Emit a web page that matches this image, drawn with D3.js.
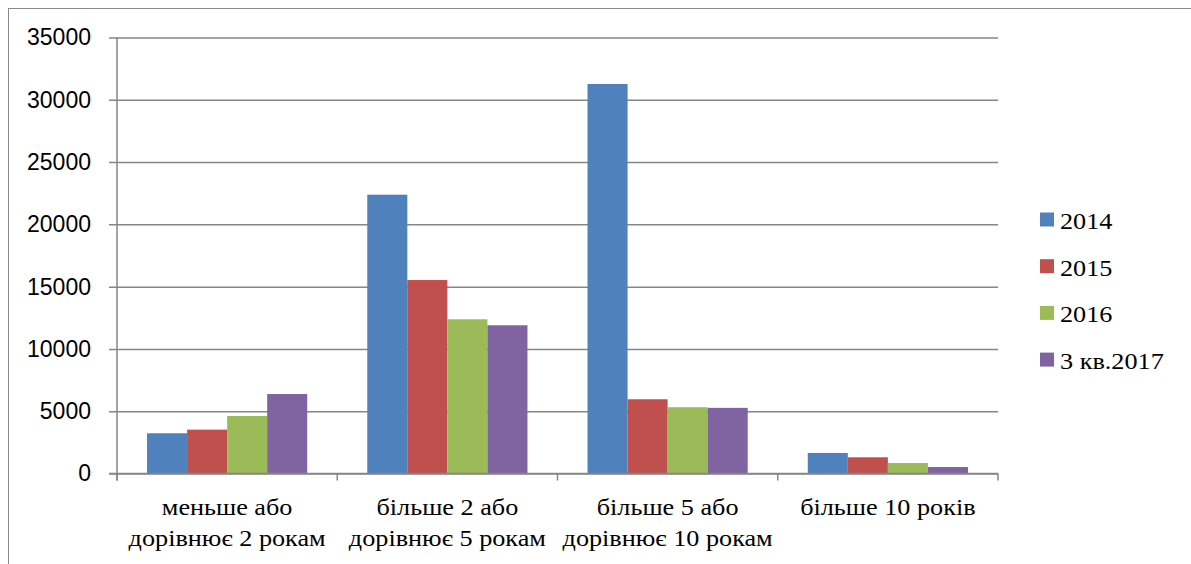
<!DOCTYPE html>
<html><head><meta charset="utf-8">
<script src="https://cdn.jsdelivr.net/npm/d3@7"></script>
<style>html,body{margin:0;padding:0;background:#fff;}svg{display:block;}</style>
</head><body>
<svg id="c" width="1191" height="564"></svg>
<script>
const categories = [
  ["меньше або","дорівнює 2 рокам"],
  ["більше 2 або","дорівнює 5 рокам"],
  ["більше 5 або","дорівнює 10 рокам"],
  ["більше 10 років"]
];
const seriesNames = ["2014","2015","2016","3 кв.2017"];
const values2014 = [3230, 22380, 31270, 1650];
const values2015 = [3520, 15530, 5960, 1300];
const values2016 = [4620, 12380, 5320, 840];
const values2017q3 = [6380, 11900, 5270, 520];
const yTicks = [0,5000,10000,15000,20000,25000,30000,35000];
const colors = ["#4F81BD","#C0504D","#9BBB59","#8064A2"];

const series = [values2014, values2015, values2016, values2017q3];
const svg = d3.select("#c");
const L = 117, R = 998, T = 37.5, B = 473.5;
const serif = "Liberation Serif, Times New Roman, serif";
const SX = 1.14;

// chart border
svg.append("rect").attr("x",8.5).attr("y",8.5).attr("width",1300).attr("height",700)
  .attr("fill","none").attr("stroke","#8a8a8a").attr("stroke-width",1);

const y = d3.scaleLinear().domain([0,35000]).range([B,T]);
const x0 = d3.scaleBand().domain(d3.range(categories.length)).range([L,R]).paddingInner(0).paddingOuter(0);
const x1 = d3.scaleBand().domain(d3.range(seriesNames.length)).range([0,x0.bandwidth()]).paddingInner(0).paddingOuter(0.75);

// gridlines + y labels
const yAxis = d3.axisLeft(y).tickValues(yTicks).tickSize(-(R-L)).tickFormat(d3.format("d")).tickPadding(26);
const ga = svg.append("g").attr("transform",`translate(${L},0)`).call(yAxis);
ga.select(".domain").remove();
ga.selectAll(".tick line").attr("stroke","#868686").attr("stroke-width",1.5).attr("x1",-8);
ga.selectAll(".tick text").attr("font-family","Liberation Sans, Arial, sans-serif").attr("font-size",23).attr("fill","#000");

// bars
const groups = svg.append("g").selectAll("g").data(categories).join("g")
  .attr("transform",(d,i)=>`translate(${x0(i)},0)`);
groups.selectAll("rect").data((d,i)=>series.map((s,k)=>({k, v:s[i]}))).join("rect")
  .attr("x",d=>x1(d.k)).attr("width",x1.bandwidth())
  .attr("y",d=>y(d.v)).attr("height",d=>B-y(d.v))
  .attr("fill",d=>colors[d.k]);

// axes lines
svg.append("line").attr("x1",L).attr("x2",L).attr("y1",T).attr("y2",B+7).attr("stroke","#868686").attr("stroke-width",1.5);
svg.append("line").attr("x1",L-8).attr("x2",R).attr("y1",B).attr("y2",B).attr("stroke","#868686").attr("stroke-width",1.5);
d3.range(categories.length+1).forEach(i=>{
  const xx = i<categories.length ? x0(i) : R;
  svg.append("line").attr("x1",xx).attr("x2",xx).attr("y1",B).attr("y2",B+7).attr("stroke","#868686").attr("stroke-width",1.5);
});

// category labels
categories.forEach((lines,i)=>{
  const cx = x0(i)+x0.bandwidth()/2;
  const t = svg.append("text").attr("transform",`translate(${cx},0) scale(${SX},1)`)
    .attr("text-anchor","middle").attr("font-family",serif)
    .attr("font-size",23).attr("fill","#000");
  lines.forEach((ln,j)=>t.append("tspan").attr("x",0).attr("y",515.5+j*30.5).text(ln));
});

// legend
const lg = svg.append("g");
seriesNames.forEach((n,k)=>{
  const yy = 212.5 + k*46.7;
  lg.append("rect").attr("x",1040).attr("y",yy).attr("width",14).attr("height",14).attr("fill",colors[k]);
  lg.append("text").attr("transform",`translate(1060,${yy+16.5}) scale(${SX},1)`).attr("font-family",serif)
    .attr("font-size",23).attr("fill","#000").text(n);
});
</script>
</body></html>
